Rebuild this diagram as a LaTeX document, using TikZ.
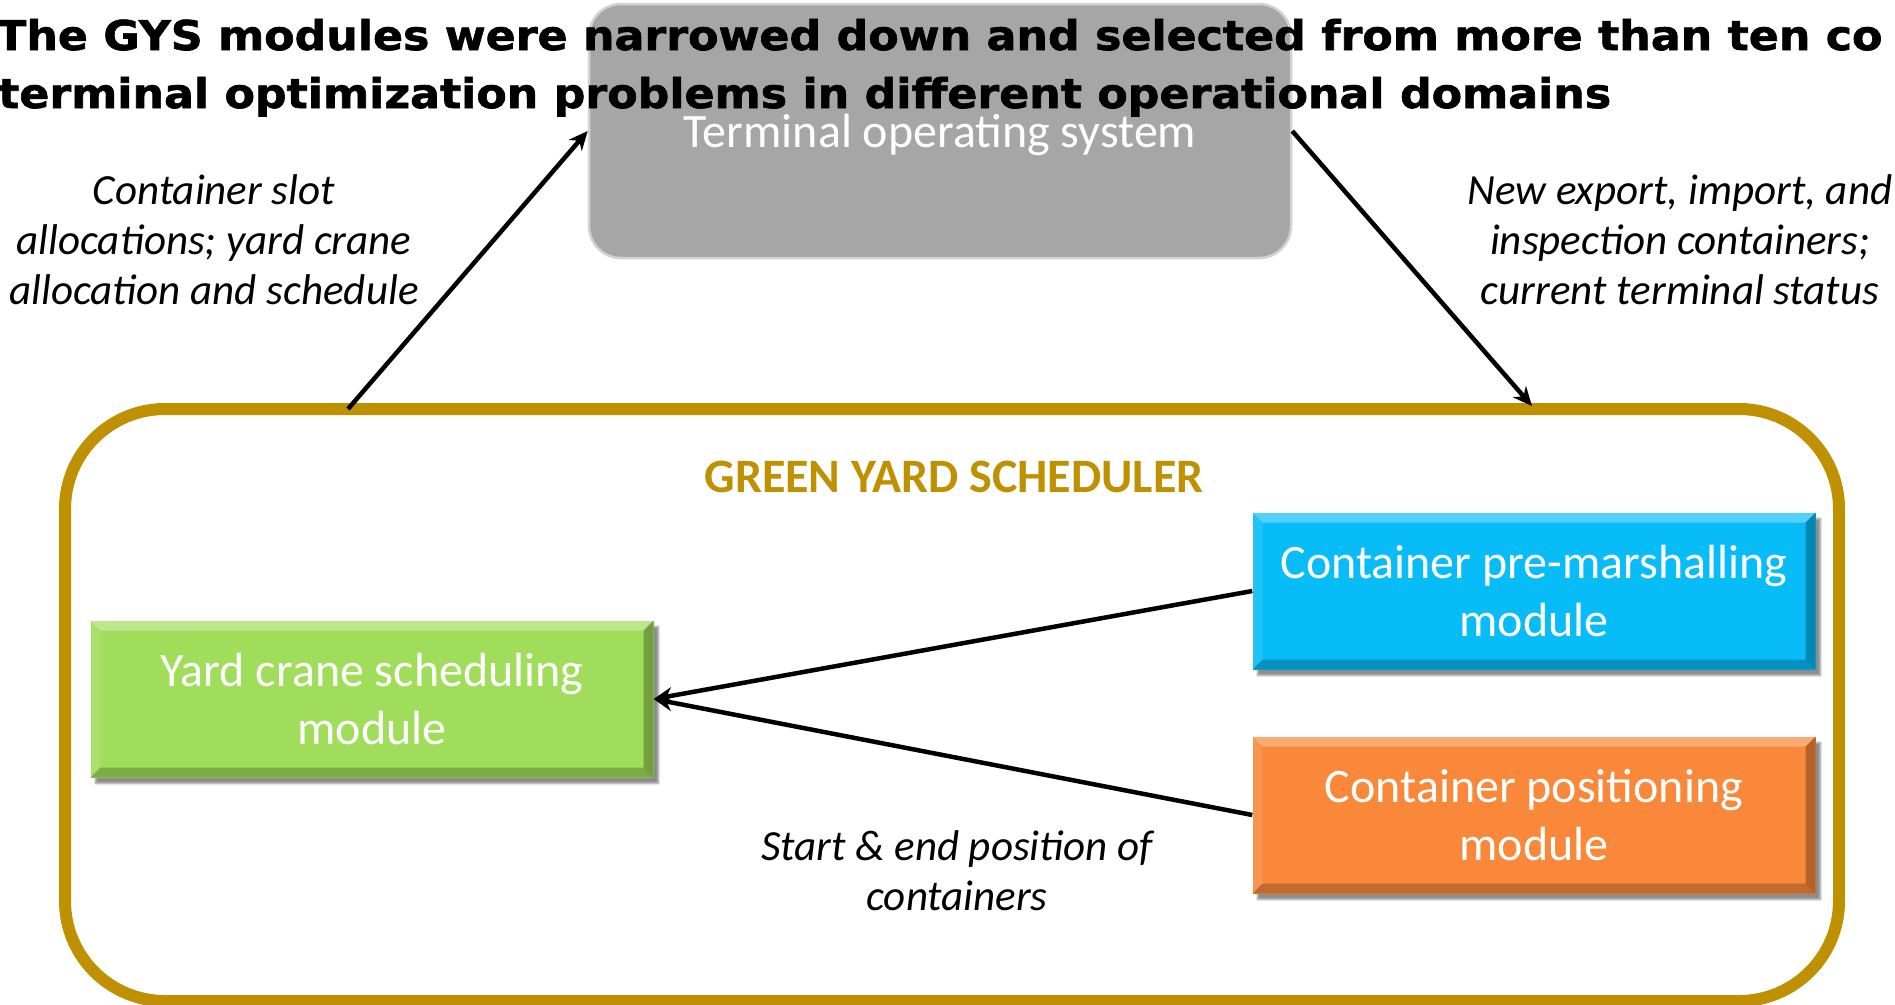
\documentclass[tikz,border=0pt]{standalone}
\usepackage{fontspec}
\setmainfont{Carlito}
\newfontfamily\headfont{DejaVu Sans}[FakeStretch=1.08, BoldFeatures={FakeBold=1.6}]
\usetikzlibrary{arrows.meta,shadows.blur}

\definecolor{gysgold}{RGB}{191,144,0}
\definecolor{tosgray}{RGB}{166,166,166}
\definecolor{ycsgreen}{RGB}{160,221,90}
\definecolor{cpmblue}{RGB}{8,188,248}
\definecolor{cposorange}{RGB}{249,136,58}

\begin{document}
\begin{tikzpicture}[x=1pt, y=-1pt]
  \tikzstyle{bevel}=[path picture={
      \fill[white, opacity=.3] (path picture bounding box.north west) -- (path picture bounding box.north east)
        -- ([shift={(-10pt,-10pt)}]path picture bounding box.north east) -- ([shift={(10pt,-10pt)}]path picture bounding box.north west) -- cycle;
      \fill[white, opacity=.1] (path picture bounding box.north west) -- ([shift={(10pt,-10pt)}]path picture bounding box.north west)
        -- ([shift={(10pt,10pt)}]path picture bounding box.south west) -- (path picture bounding box.south west) -- cycle;
      \fill[black, opacity=.22] (path picture bounding box.south west) -- (path picture bounding box.south east)
        -- ([shift={(-10pt,10pt)}]path picture bounding box.south east) -- ([shift={(10pt,10pt)}]path picture bounding box.south west) -- cycle;
      \fill[black, opacity=.28] (path picture bounding box.north east) -- (path picture bounding box.south east)
        -- ([shift={(-10pt,10pt)}]path picture bounding box.south east) -- ([shift={(-10pt,-10pt)}]path picture bounding box.north east) -- cycle;
    }]
  \tikzstyle{modbox}=[rectangle, text=white, align=center, inner sep=0pt,
    minimum width=563pt, minimum height=157pt, font=\fontsize{48}{58}\selectfont,
    blur shadow={shadow xshift=5pt, shadow yshift=-6pt, shadow blur steps=8, shadow opacity=45}, bevel]
  \tikzstyle{lbl}=[align=center, font=\itshape\fontsize{43}{50}\selectfont]
  \tikzstyle{arr}=[line width=4.5pt, -{Stealth[length=19pt, width=17pt, inset=6pt]}]
  \tikzstyle{headline}=[anchor=base west, inner sep=0pt, font=\headfont\bfseries\fontsize{41}{49}\selectfont]

  \useasboundingbox (0,0) rectangle (1895,1004);

  % terminal operating system, partly under the heading
  \node[rectangle, rounded corners=32pt, fill=tosgray, draw=gray!35, line width=2.5pt,
    minimum width=702pt, minimum height=254pt, text=white, text height=38pt, text depth=5pt,
    font=\fontsize{48}{58}\selectfont] (tos) at (940,131) {Terminal operating system};

  \node[headline] (head1) at (-4,50) {The GYS modules were narrowed down and selected from more than ten co};
  \node[headline] (head2) at (-2,108) {terminal optimization problems in different operational domains};

  \node[lbl] (slot) at (214,240) {Container slot\\allocations; yard crane\\allocation and schedule};
  \node[lbl] (news) at (1680,240) {New export, import, and\\inspection containers;\\current terminal status};

  % green yard scheduler
  \node[rectangle, draw=gysgold, line width=12pt, rounded corners=100pt,
    minimum width=1774pt, minimum height=592pt] (gys) at (952,705) {};
  \node[text=gysgold, font=\bfseries\fontsize{48}{56}\selectfont] (gystitle) at (954,477) {GREEN YARD SCHEDULER};

  \node[modbox, fill=ycsgreen] (ycs) at (372,699) {Yard crane scheduling\\module};
  \node[modbox, fill=cpmblue] (cpm) at (1534,591) {Container pre-marshalling\\module};
  \node[modbox, fill=cposorange] (cpos) at (1534,815) {Container positioning\\module};

  \node[lbl] (startend) at (957,871) {Start \& end position of\\containers};

  \coordinate (gysl) at (348,409);
  \coordinate (gysr) at (1532,406);
  \draw[arr] (gysl) -- (tos.west);
  \draw[arr] (tos.east) -- (gysr);
  \draw[arr] (cpm.west) -- (ycs.east);
  \draw[arr] (cpos.west) -- (ycs.east);
\end{tikzpicture}
\end{document}
